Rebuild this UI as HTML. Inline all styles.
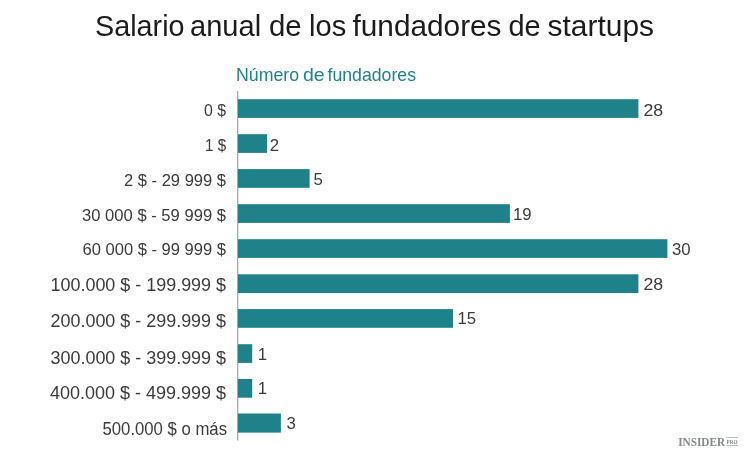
<!DOCTYPE html>
<html lang="es">
<head>
<meta charset="utf-8">
<title>Salario anual de los fundadores de startups</title>
<style>
html,body{margin:0;padding:0;background:#fff;}
body{width:750px;height:458px;overflow:hidden;}
svg{display:block;}
text{font-family:"Liberation Sans",sans-serif;}
</style>
</head>
<body>
<svg width="750" height="458" viewBox="0 0 750 458">
<rect width="750" height="458" fill="#ffffff"/>
<rect x="237" y="91" width="1.3" height="349.5" fill="#a9a9a9"/>
<rect x="238.0" y="99.2" width="400.4" height="18.7" fill="#1f828a"/>
<rect x="238.0" y="134.2" width="29.0" height="18.7" fill="#1f828a"/>
<rect x="238.0" y="169.1" width="71.6" height="18.7" fill="#1f828a"/>
<rect x="238.0" y="204.2" width="271.9" height="18.7" fill="#1f828a"/>
<rect x="238.0" y="239.2" width="429.4" height="18.7" fill="#1f828a"/>
<rect x="238.0" y="274.3" width="400.4" height="18.7" fill="#1f828a"/>
<rect x="238.0" y="309.1" width="215.0" height="18.7" fill="#1f828a"/>
<rect x="238.0" y="344.2" width="14.2" height="18.7" fill="#1f828a"/>
<rect x="238.0" y="379.0" width="14.2" height="18.7" fill="#1f828a"/>
<rect x="238.0" y="413.5" width="42.9" height="19.1" fill="#1f828a"/>
<text y="36.0" font-size="28.8" fill="#1c1c1c"><tspan x="95.00" textLength="89.56" lengthAdjust="spacingAndGlyphs">Salario</tspan> <tspan x="190.00" textLength="71.10" lengthAdjust="spacingAndGlyphs">anual</tspan> <tspan x="269.00" textLength="32.69" lengthAdjust="spacingAndGlyphs">de</tspan> <tspan x="309.00" textLength="37.23" lengthAdjust="spacingAndGlyphs">los</tspan> <tspan x="352.50" textLength="149.02" lengthAdjust="spacingAndGlyphs">fundadores</tspan> <tspan x="508.50" textLength="32.18" lengthAdjust="spacingAndGlyphs">de</tspan> <tspan x="547.50" textLength="106.56" lengthAdjust="spacingAndGlyphs">startups</tspan></text>
<text y="80.8" font-size="17.8" fill="#1f828a"><tspan x="236.00" textLength="63.04" lengthAdjust="spacingAndGlyphs">Número</tspan> <tspan x="303.00" textLength="21.70" lengthAdjust="spacingAndGlyphs">de</tspan> <tspan x="327.50" textLength="88.50" lengthAdjust="spacingAndGlyphs">fundadores</tspan></text>
<text x="204.00" y="116.1" font-size="16.9" fill="#3c3c3c" textLength="22.02" lengthAdjust="spacingAndGlyphs">0 $</text>
<text x="205.00" y="150.5" font-size="16.9" fill="#3c3c3c" textLength="21.07" lengthAdjust="spacingAndGlyphs">1 $</text>
<text x="124.00" y="185.6" font-size="16.9" fill="#3c3c3c" textLength="102.01" lengthAdjust="spacingAndGlyphs">2 $ - 29 999 $</text>
<text x="82.00" y="220.5" font-size="16.9" fill="#3c3c3c" textLength="144.00" lengthAdjust="spacingAndGlyphs">30 000 $ - 59 999 $</text>
<text x="82.50" y="255.3" font-size="16.9" fill="#3c3c3c" textLength="143.51" lengthAdjust="spacingAndGlyphs">60 000 $ - 99 999 $</text>
<text x="50.50" y="291.3" font-size="18.0" fill="#3c3c3c" textLength="175.52" lengthAdjust="spacingAndGlyphs">100.000 $ - 199.999 $</text>
<text x="50.50" y="327.4" font-size="18.0" fill="#3c3c3c" textLength="175.51" lengthAdjust="spacingAndGlyphs">200.000 $ - 299.999 $</text>
<text x="50.50" y="363.8" font-size="18.0" fill="#3c3c3c" textLength="175.51" lengthAdjust="spacingAndGlyphs">300.000 $ - 399.999 $</text>
<text x="50.00" y="399.2" font-size="18.0" fill="#3c3c3c" textLength="176.00" lengthAdjust="spacingAndGlyphs">400.000 $ - 499.999 $</text>
<text x="102.50" y="435.0" font-size="18.0" fill="#3c3c3c" textLength="124.51" lengthAdjust="spacingAndGlyphs">500.000 $ o más</text>
<text x="643.50" y="116.2" font-size="16.8" fill="#3c3c3c" textLength="19.69" lengthAdjust="spacingAndGlyphs">28</text>
<text x="269.80" y="150.7" font-size="16.8" fill="#3c3c3c">2</text>
<text x="313.50" y="185.1" font-size="16.8" fill="#3c3c3c">5</text>
<text x="513.00" y="219.9" font-size="16.8" fill="#3c3c3c" textLength="18.65" lengthAdjust="spacingAndGlyphs">19</text>
<text x="672.00" y="255.2" font-size="16.8" fill="#3c3c3c" textLength="18.59" lengthAdjust="spacingAndGlyphs">30</text>
<text x="643.50" y="289.6" font-size="16.8" fill="#3c3c3c" textLength="19.69" lengthAdjust="spacingAndGlyphs">28</text>
<text x="457.50" y="324.1" font-size="16.8" fill="#3c3c3c" textLength="18.73" lengthAdjust="spacingAndGlyphs">15</text>
<text x="257.70" y="359.5" font-size="16.8" fill="#3c3c3c">1</text>
<text x="257.70" y="394.3" font-size="16.8" fill="#3c3c3c">1</text>
<text x="286.40" y="429.3" font-size="16.8" fill="#3c3c3c">3</text>
<g fill="#85888c">
<text x="678.2" y="445.7" font-size="12.3" font-weight="bold" style="font-family:'Liberation Serif',serif" textLength="46.9" lengthAdjust="spacingAndGlyphs">INSIDER</text>
<rect x="726.2" y="437.1" width="11.6" height="0.7" fill="#9da0a4"/>
<rect x="726.2" y="445.0" width="11.6" height="0.7" fill="#9da0a4"/>
<text x="726.5" y="443.6" font-size="6.0" font-weight="bold" style="font-family:'Liberation Serif',serif" textLength="11.0" lengthAdjust="spacingAndGlyphs">PRO</text>
</g>
</svg>
</body>
</html>
